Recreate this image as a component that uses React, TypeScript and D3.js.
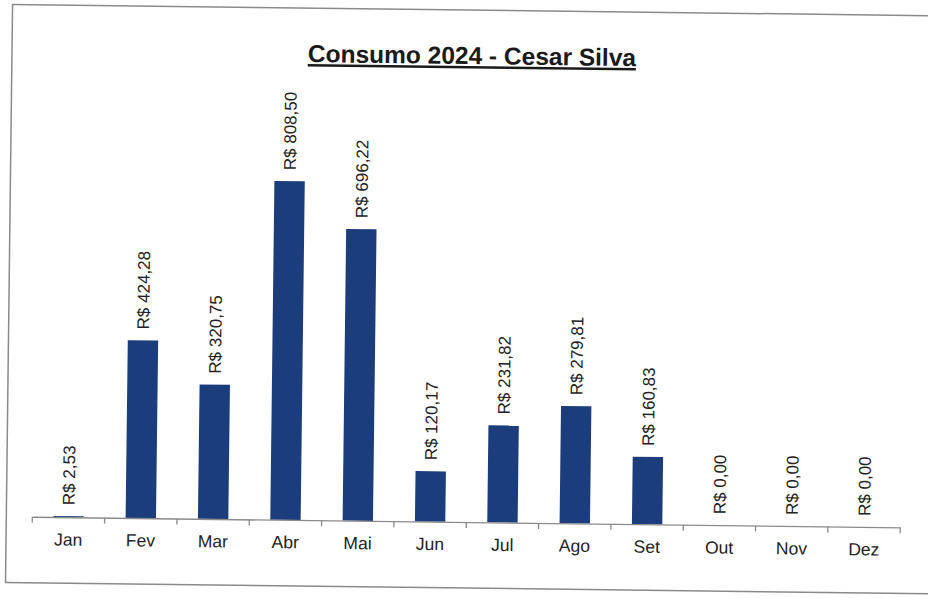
import React, { useEffect, useRef } from 'react';
import * as d3 from 'd3';

// dados do gráfico
const meses = ['Jan', 'Fev', 'Mar', 'Abr', 'Mai', 'Jun', 'Jul', 'Ago', 'Set', 'Out', 'Nov', 'Dez'];
const valores = [2.53, 424.28, 320.75, 808.5, 696.22, 120.17, 231.82, 279.81, 160.83, 0, 0, 0];
const titulo = 'Consumo 2024 - Cesar Silva';

const formatoBRL = (v: number) => 'R$ ' + v.toFixed(2).replace('.', ',');

export default function App() {
  const ref = useRef<SVGSVGElement>(null);

  useEffect(() => {
    document.body.style.margin = '0';
    const width = 928;
    const height = 598;
    const base = 522;

    const svg = d3.select(ref.current);
    svg.selectAll('*').remove();
    svg.attr('width', width).attr('height', height);

    // leve inclinação da digitalização
    const g = svg.append('g').attr('transform', `rotate(0.7, ${width / 2}, ${height / 2})`);

    g.append('rect')
      .attr('x', 9)
      .attr('y', 10)
      .attr('width', 935)
      .attr('height', 578)
      .attr('fill', 'none')
      .attr('stroke', '#8a8a8a')
      .attr('stroke-width', 1.5);

    const x = d3.scaleBand().domain(meses).range([35, 903]).paddingInner(0).paddingOuter(0);
    const y = d3.scaleLinear().domain([0, 900]).range([base, base - 377]);
    const barW = x.bandwidth() * 0.42;

    g.append('text')
      .attr('x', 469)
      .attr('y', 64)
      .attr('text-anchor', 'middle')
      .style('font-family', 'Liberation Sans, Arial, sans-serif')
      .style('font-size', '24.5px')
      .style('font-weight', 'bold')
      .style('text-decoration', 'underline')
      .attr('fill', '#1a1a1a')
      .text(titulo);

    g.selectAll('rect.bar')
      .data(valores)
      .enter()
      .append('rect')
      .attr('class', 'bar')
      .attr('x', (d, i) => (x(meses[i]) as number) + (x.bandwidth() - barW) / 2)
      .attr('y', d => y(d))
      .attr('width', barW)
      .attr('height', d => base - y(d))
      .attr('fill', '#1b3d7c');

    g.selectAll('text.rotulo')
      .data(valores)
      .enter()
      .append('text')
      .attr('class', 'rotulo')
      .attr('transform', (d, i) => {
        const cx = (x(meses[i]) as number) + x.bandwidth() / 2;
        return `translate(${cx}, ${y(d) - 11}) rotate(-90)`;
      })
      .attr('dy', '0.35em')
      .style('font-family', 'Liberation Sans, Arial, sans-serif')
      .style('font-size', '17px')
      .attr('fill', '#222')
      .text(d => formatoBRL(d));

    const eixo = g.append('g').attr('transform', `translate(0, ${base})`);
    eixo.call(d3.axisBottom(x).tickSize(0).tickPadding(16).tickSizeOuter(0));
    eixo.select('.domain').attr('stroke', '#8a8a8a').attr('stroke-width', 1.3);
    eixo.selectAll('.tick text')
      .style('font-family', 'Liberation Sans, Arial, sans-serif')
      .style('font-size', '17.5px')
      .attr('fill', '#222');

    // marcas entre categorias
    const limites = meses.map(m => x(m) as number).concat([903]);
    eixo.selectAll('line.limite')
      .data(limites)
      .enter()
      .append('line')
      .attr('class', 'limite')
      .attr('x1', d => d)
      .attr('x2', d => d)
      .attr('y1', 0)
      .attr('y2', 6)
      .attr('stroke', '#8a8a8a')
      .attr('stroke-width', 1.3);
  }, []);

  return <svg ref={ref} style={{ display: 'block' }}></svg>;
}
